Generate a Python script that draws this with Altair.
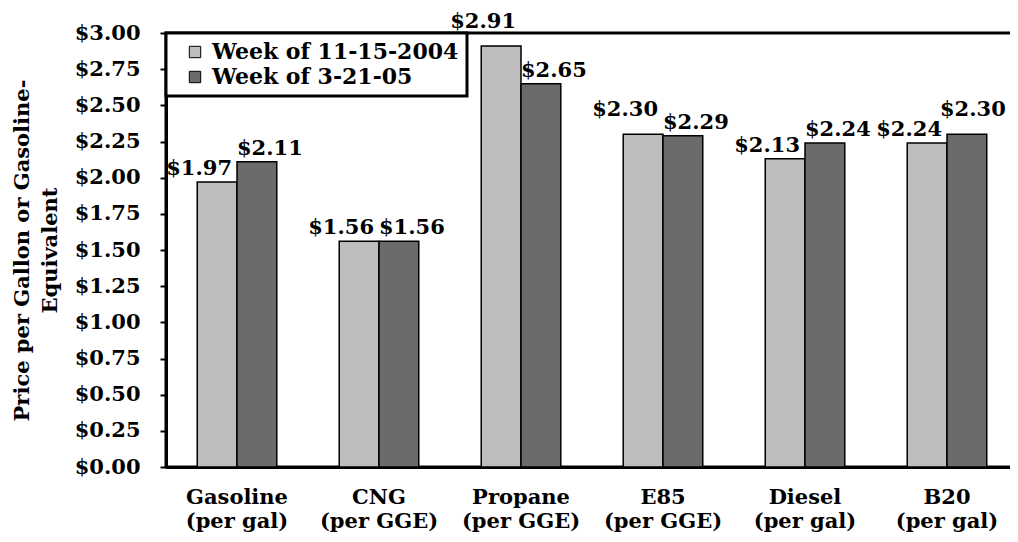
import altair as alt
import pandas as pd

fuels = ["Gasoline", "CNG", "Propane", "E85", "Diesel", "B20"]
units = ["(per gal)", "(per GGE)", "(per GGE)", "(per GGE)", "(per gal)", "(per gal)"]
weeks = ["Week of 11-15-2004", "Week of 3-21-05"]
price_nov_2004 = [1.97, 1.56, 2.91, 2.30, 2.13, 2.24]
price_mar_2005 = [2.11, 1.56, 2.65, 2.29, 2.24, 2.30]
y_ticks = [0.0, 0.25, 0.5, 0.75, 1.0, 1.25, 1.5, 1.75, 2.0, 2.25, 2.5, 2.75, 3.0]
bar_colors = ["#bdbdbd", "#6b6b6b"]

FONT = "DejaVu Serif"

categories = [f"{f}|{u}" for f, u in zip(fuels, units)]
# labels that were moved up in the original to avoid collisions
lifted = {("Propane", weeks[0]), ("E85", weeks[0]), ("B20", weeks[1])}

rows = []
for week, prices in zip(weeks, [price_nov_2004, price_mar_2005]):
    for fuel, cat, p in zip(fuels, categories, prices):
        rows.append({"fuel": cat, "week": week, "price": p,
                     "lift": (fuel, week) in lifted})
df = pd.DataFrame(rows)

x_enc = alt.X(
    "fuel:N", sort=categories,
    scale=alt.Scale(paddingInner=0.44, paddingOuter=0.22),
    axis=alt.Axis(title=None, labelExpr="split(datum.label, '|')",
                  ticks=False, labelAngle=0, labelPadding=19,
                  labelLineHeight=24, labelFontSize=21),
)
xoff = alt.XOffset("week:N", sort=weeks, scale=alt.Scale(paddingInner=0, paddingOuter=0))
y_enc = alt.Y(
    "price:Q",
    scale=alt.Scale(domain=[0, 3], nice=False),
    axis=alt.Axis(
        values=y_ticks, format="$.2f", title=["Price per Gallon or Gasoline-", "Equivalent"],
        tickSize=6, tickWidth=2, labelPadding=20, titlePadding=14,
        titleLineHeight=28, labelOverlap=False, labelFontSize=21,
        titleFontSize=21,
    ),
)

bars = alt.Chart(df).mark_bar(stroke="black", strokeWidth=1.5).encode(
    x=x_enc,
    xOffset=xoff,
    y=y_enc,
    color=alt.Color("week:N", sort=weeks,
                    scale=alt.Scale(domain=weeks, range=bar_colors),
                    legend=alt.Legend(
                        title=None, orient="none", legendX=0, legendY=0,
                        fillColor="white", strokeColor="black",
                        padding=8, labelFont=FONT, labelFontSize=22,
                        labelFontWeight="bold", labelColor="black",
                        symbolType="square", symbolSize=130,
                        symbolStrokeColor="black", symbolStrokeWidth=1,
                        symbolOffset=10, labelOffset=6, rowPadding=3,
                        labelLimit=400)),
)

layers = [bars]
for i, week in enumerate(weeks):
    for lift in [False, True]:
        dx = -18 if i == 0 else (6 if lift else 13)
        t = alt.Chart(df).transform_filter(
            f"datum.week == '{week}' && datum.lift == {str(lift).lower()}"
        ).mark_text(
            font=FONT, fontSize=21, fontWeight="bold", color="black",
            baseline="alphabetic", dx=dx, dy=-18 if lift else -7,
        ).encode(
            x=x_enc,
            xOffset=xoff,
            y=y_enc,
            text=alt.Text("price:Q", format="$.2f"),
        )
        layers.append(t)

chart = alt.layer(*layers).properties(
    width=852, height=434,
    autosize=alt.AutoSizeParams(type="none"),
    padding={"left": 158, "top": 25, "right": -8, "bottom": 67},
    background="white",
).configure_view(stroke="black", strokeWidth=3).configure_axis(
    labelFont=FONT, labelFontWeight="bold", labelColor="black",
    titleFont=FONT, titleFontWeight="bold", titleColor="black",
    domainColor="black", domainWidth=3, tickColor="black", grid=False,
).configure_legend(strokeWidth=3)

chart.save("out.html", embed_options={"renderer": "svg", "actions": False})
